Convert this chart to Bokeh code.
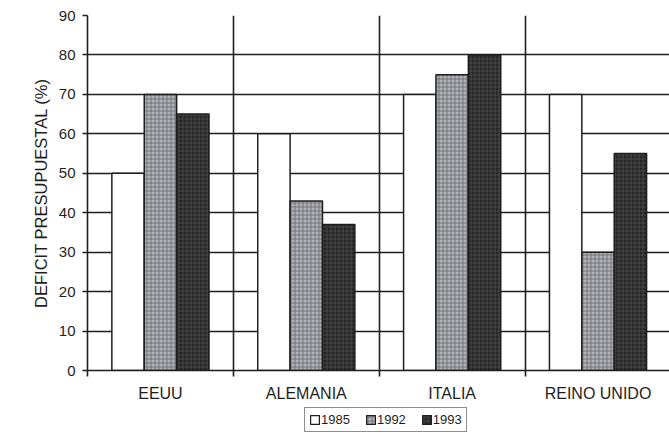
from bokeh.plotting import figure
from bokeh.models import Range1d, FixedTicker, Legend, LegendItem, ColumnDataSource, Title
from bokeh.layouts import column
from bokeh.embed import file_html
from bokeh.resources import INLINE

categories = ["EEUU", "ALEMANIA", "ITALIA", "REINO UNIDO"]
years = ["1985", "1992", "1993"]
v1985 = [50, 60, 70, 70]
v1992 = [70, 43, 75, 30]
v1993 = [65, 37, 80, 55]
yticks = [0, 10, 20, 30, 40, 50, 60, 70, 80, 90]
ylabel = "DEFICIT PRESUPUESTAL (%)"

FONT = "Liberation Sans"
INK = "#1e1e1e"

p = figure(width=669, height=404, output_backend="svg", toolbar_location=None,
           x_range=Range1d(0, 3.99), y_range=Range1d(0, 90),
           min_border_left=87, min_border_right=0, min_border_top=15, min_border_bottom=34)
p.outline_line_color = None
p.background_fill_color = "white"
p.border_fill_color = "white"

centers = [i + 0.5 for i in range(len(categories))]

# grids
p.ygrid.ticker = FixedTicker(ticks=yticks[1:])
p.ygrid.grid_line_color = INK
p.ygrid.grid_line_width = 1.6
p.xgrid.ticker = FixedTicker(ticks=list(range(1, len(categories))))
p.xgrid.grid_line_color = INK
p.xgrid.grid_line_width = 1.6

width = 0.222
styles = [
    dict(fill_color="white"),
    dict(fill_color="#b0b0b6", hatch_pattern="+", hatch_color="#6a6a70", hatch_scale=4, hatch_weight=0.8),
    dict(fill_color="#262626", hatch_pattern="+", hatch_color="#4c4c4c", hatch_scale=4, hatch_weight=0.8),
]
offsets = [-0.222, 0.0, 0.222]
for vals, off, st in zip([v1985, v1992, v1993], offsets, styles):
    src = ColumnDataSource(dict(x=[c + off for c in centers], top=vals))
    p.vbar(x="x", top="top", width=width, bottom=0, source=src,
           line_color=INK, line_width=1.5, **st)

# axes
p.yaxis.ticker = FixedTicker(ticks=yticks)
p.yaxis.major_label_text_font = FONT
p.yaxis.major_label_text_font_size = "15px"
p.yaxis.major_label_text_color = INK
p.yaxis.major_label_standoff = 7
p.yaxis.major_tick_out = 5
p.yaxis.major_tick_in = 0
p.yaxis.minor_tick_out = 0
p.yaxis.minor_tick_in = 0
p.yaxis.axis_line_width = 1.6
p.yaxis.axis_line_color = INK
p.yaxis.major_tick_line_color = INK
p.yaxis.major_tick_line_width = 1.6

ytitle = Title(text=ylabel, align="center", standoff=11,
               text_font=FONT, text_font_size="16.5px", text_font_style="normal",
               text_color=INK)
p.add_layout(ytitle, "left")

p.xaxis.ticker = FixedTicker(ticks=centers, minor_ticks=list(range(0, len(categories) + 1)))
p.xaxis.major_label_overrides = {c: name for c, name in zip(centers, categories)}
p.xaxis.major_label_text_font = FONT
p.xaxis.major_label_text_font_size = "16px"
p.xaxis.major_label_text_color = INK
p.xaxis.major_label_standoff = 8
p.xaxis.major_tick_out = 0
p.xaxis.major_tick_in = 0
p.xaxis.minor_tick_out = 6
p.xaxis.minor_tick_in = 0
p.xaxis.minor_tick_line_color = INK
p.xaxis.minor_tick_line_width = 1.6
p.xaxis.axis_line_width = 1.6
p.xaxis.axis_line_color = INK

# legend strip
lf = figure(width=669, height=30, output_backend="svg", toolbar_location=None,
            x_range=Range1d(0, 1), y_range=Range1d(0, 1),
            min_border_left=0, min_border_right=0, min_border_top=0, min_border_bottom=0)
lf.axis.visible = False
lf.grid.visible = False
lf.outline_line_color = None
lf.background_fill_color = "white"
lf.border_fill_color = "white"
items = []
for y, st in zip(years, styles):
    # legend-only swatch renderers, kept far outside the visible strip
    r = lf.vbar(x=[0.5], top=[-9], bottom=[-10], width=0.1, line_color=INK, line_width=1.2, **st)
    items.append(LegendItem(label=y, renderers=[r]))
legend = Legend(items=items, orientation="horizontal", location=(217, 2))
legend.label_text_font = FONT
legend.label_text_font_size = "13px"
legend.label_text_color = INK
legend.glyph_width = 11
legend.glyph_height = 11
legend.label_standoff = 1
legend.spacing = 15
legend.padding = 4
legend.margin = 0
legend.border_line_color = INK
legend.border_line_width = 1.2
legend.label_height = 12
legend.background_fill_alpha = 1
lf.add_layout(legend, "center")

open("out.html", "w").write(file_html(column(p, lf), INLINE))
